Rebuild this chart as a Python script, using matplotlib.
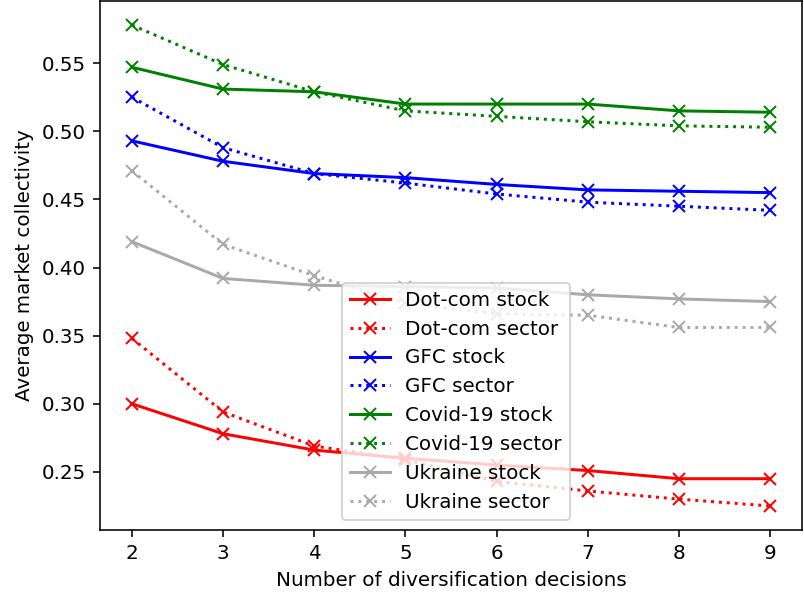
import numpy as np
import matplotlib
matplotlib.use("Agg")
import matplotlib.pyplot as plt

decisions = [2, 3, 4, 5, 6, 7, 8, 9]

dotcom_stock = [0.300, 0.278, 0.266, 0.260, 0.255, 0.251, 0.245, 0.245]
dotcom_sector = [0.348, 0.294, 0.269, 0.259, 0.243, 0.236, 0.230, 0.225]
gfc_stock = [0.493, 0.478, 0.469, 0.466, 0.461, 0.457, 0.456, 0.455]
gfc_sector = [0.525, 0.488, 0.469, 0.462, 0.454, 0.448, 0.445, 0.442]
covid_stock = [0.547, 0.531, 0.529, 0.520, 0.520, 0.520, 0.515, 0.514]
covid_sector = [0.578, 0.549, 0.529, 0.515, 0.511, 0.507, 0.504, 0.503]
ukraine_stock = [0.419, 0.392, 0.387, 0.386, 0.385, 0.380, 0.377, 0.375]
ukraine_sector = [0.471, 0.417, 0.394, 0.374, 0.366, 0.365, 0.356, 0.356]

series = [
    ("Dot-com stock", dotcom_stock, "red", "-"),
    ("Dot-com sector", dotcom_sector, "red", ":"),
    ("GFC stock", gfc_stock, "blue", "-"),
    ("GFC sector", gfc_sector, "blue", ":"),
    ("Covid-19 stock", covid_stock, "green", "-"),
    ("Covid-19 sector", covid_sector, "green", ":"),
    ("Ukraine stock", ukraine_stock, "darkgray", "-"),
    ("Ukraine sector", ukraine_sector, "darkgray", ":"),
]

dpi = 143
fig = plt.figure(figsize=(804 / dpi, 594 / dpi), dpi=dpi)
ax = fig.add_axes([100 / 804, 64 / 594, 702 / 804, 529 / 594])

for label, vals, col, ls in series:
    ax.plot(decisions, vals, color=col, linestyle=ls, marker="x", label=label)

ax.set_xlabel("Number of diversification decisions")
ax.set_ylabel("Average market collectivity")
ax.legend(loc="lower center", bbox_to_anchor=(0.507, 0.0))

fig.savefig("out.png", dpi=dpi)
